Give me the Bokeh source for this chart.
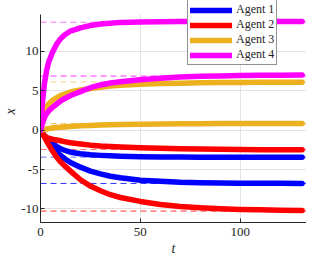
from bokeh.plotting import figure
from bokeh.models import Legend, LegendItem, FixedTicker, Range1d, Span
from bokeh.embed import file_html
from bokeh.resources import INLINE

# ---- data ----
t = [0, 1, 2, 3, 4, 6, 8, 10, 12, 15, 20, 25, 30, 35, 40, 50, 60, 70, 80, 90, 100, 110, 120, 131]

agent1_a = [0, -0.4, -0.75, -1.05, -1.3, -1.7, -2.05, -2.35, -2.55, -2.8, -3.0, -3.12, -3.2, -3.26,
            -3.3, -3.36, -3.4, -3.42, -3.43, -3.44, -3.44, -3.45, -3.45, -3.45]
agent1_b = [0, -0.4, -0.8, -1.15, -1.5, -2.1, -2.7, -3.2, -3.6, -4.1, -4.7, -5.2, -5.55, -5.85,
            -6.05, -6.35, -6.5, -6.62, -6.68, -6.72, -6.74, -6.75, -6.75, -6.76]
agent2_a = [0, -0.4, -0.7, -0.9, -1.0, -1.15, -1.25, -1.35, -1.45, -1.6, -1.75, -1.9, -2.0, -2.07,
            -2.13, -2.22, -2.3, -2.36, -2.4, -2.43, -2.46, -2.48, -2.49, -2.5]
agent2_b = [0, -0.45, -0.9, -1.35, -1.8, -2.65, -3.4, -4.0, -4.5, -5.2, -6.3, -7.1, -7.7, -8.2,
            -8.55, -9.05, -9.45, -9.7, -9.85, -9.98, -10.07, -10.12, -10.16, -10.2]
agent3_a = [0, 1.8, 2.6, 3.0, 3.3, 3.8, 4.1, 4.4, 4.6, 4.85, 5.1, 5.3, 5.45, 5.6,
            5.7, 5.85, 5.92, 5.98, 6.02, 6.05, 6.07, 6.08, 6.09, 6.1]
agent3_b = [0, 0.05, 0.1, 0.15, 0.2, 0.28, 0.33, 0.38, 0.42, 0.48, 0.55, 0.6, 0.65, 0.69,
            0.72, 0.77, 0.8, 0.82, 0.83, 0.84, 0.84, 0.85, 0.85, 0.85]
agent4_a = [0, 3.6, 6.0, 7.5, 8.6, 9.9, 10.9, 11.6, 12.1, 12.6, 13.0, 13.3, 13.5, 13.6,
            13.7, 13.75, 13.78, 13.8, 13.8, 13.8, 13.8, 13.8, 13.8, 13.8]
agent4_b = [0, 0.9, 1.6, 2.1, 2.4, 2.9, 3.3, 3.7, 4.0, 4.4, 4.9, 5.4, 5.75, 6.0,
            6.15, 6.4, 6.6, 6.75, 6.85, 6.9, 6.95, 6.97, 6.98, 7.0]

equilibria = {
    "Agent 1": [-3.43, -6.77],
    "Agent 2": [-2.45, -10.28],
    "Agent 3": [6.12, 0.82],
    "Agent 4": [13.72, 6.88],
}

agents = ["Agent 1", "Agent 2", "Agent 3", "Agent 4"]
series = {
    "Agent 1": (agent1_a, agent1_b),
    "Agent 2": (agent2_a, agent2_b),
    "Agent 3": (agent3_a, agent3_b),
    "Agent 4": (agent4_a, agent4_b),
}
colors = {"Agent 1": "#0000ff", "Agent 2": "#ff0000", "Agent 3": "#edb120", "Agent 4": "#ff00ff"}

xticks = [0, 50, 100]
xtick_labels = ["0", "50", "100"]
yticks = [-10, -5, 0, 5, 10]
ytick_labels = ["-10", "-5", "0", "5", "10"]

X_LIM = (0, 133.2)
Y_AXIS_LIM = (-11.73, 14.7)   # extent of the drawn y axis
Y_VIEW_TOP = 16.48            # room above the axis for the legend

FONT = "Liberation Serif, DejaVu Serif, serif"
DARK = "#262626"

p = figure(width=306, height=261, output_backend="svg", toolbar_location=None,
           x_range=Range1d(*X_LIM), y_range=Range1d(Y_AXIS_LIM[0], Y_VIEW_TOP),
           min_border_left=37, min_border_right=0, min_border_top=0, min_border_bottom=39)
p.outline_line_color = None
p.background_fill_color = "white"

# grid
for g in (p.xgrid, p.ygrid):
    g.grid_line_color = "#e3e3e3"
    g.grid_line_width = 1
p.xgrid.ticker = FixedTicker(ticks=xticks)
p.ygrid.ticker = FixedTicker(ticks=yticks)
try:
    p.xgrid.cross_bounds = Y_AXIS_LIM
except AttributeError:
    pass

# axes
p.xaxis.ticker = FixedTicker(ticks=xticks)
p.yaxis.ticker = FixedTicker(ticks=yticks)
p.yaxis.bounds = Y_AXIS_LIM
p.xaxis.major_label_overrides = dict(zip(xticks, xtick_labels))
p.yaxis.major_label_overrides = dict(zip(yticks, ytick_labels))
for ax in (p.xaxis, p.yaxis):
    ax.axis_line_color = DARK
    ax.axis_line_width = 1
    ax.major_tick_in = 4
    ax.major_tick_out = 0
    ax.major_tick_line_color = DARK
    ax.minor_tick_line_color = None
    ax.major_label_text_font = FONT
    ax.major_label_text_font_size = "13px"
    ax.major_label_text_color = DARK
    ax.axis_label_text_font = FONT
    ax.axis_label_text_font_style = "italic"
    ax.axis_label_text_font_size = "14px"
    ax.axis_label_text_color = DARK
    ax.axis_label_standoff = 0
p.xaxis.axis_label = "t"
p.yaxis.axis_label = "x"
p.xaxis.major_label_standoff = 5
p.xaxis.axis_label_standoff = 2
p.yaxis.major_label_standoff = 2

# dashed equilibrium lines
alphas = [0.55, 0.8]
for a in agents:
    for k, v in enumerate(equilibria[a]):
        p.add_layout(Span(location=v, dimension="width", line_color=colors[a],
                          line_dash="6 4", line_width=1, line_alpha=alphas[k], level="underlay"))

# curves
items = []
for a in agents:
    rs = []
    for ys in series[a]:
        r = p.line(t, ys, line_color=colors[a], line_width=5.5, line_cap="round", line_join="round")
        rs.append(r)
    items.append(LegendItem(label=a, renderers=[rs[0]]))

legend = Legend(items=items, location=(147, 157),
                label_text_font=FONT, label_text_font_size="12px", label_text_color=DARK,
                border_line_color=DARK, border_line_width=1,
                background_fill_color="white", background_fill_alpha=1.0,
                padding=2, spacing=0, margin=0,
                glyph_width=42, glyph_height=12, label_standoff=4, label_height=12)
p.add_layout(legend, "center")

open("out.html", "w").write(file_html(p, INLINE))
